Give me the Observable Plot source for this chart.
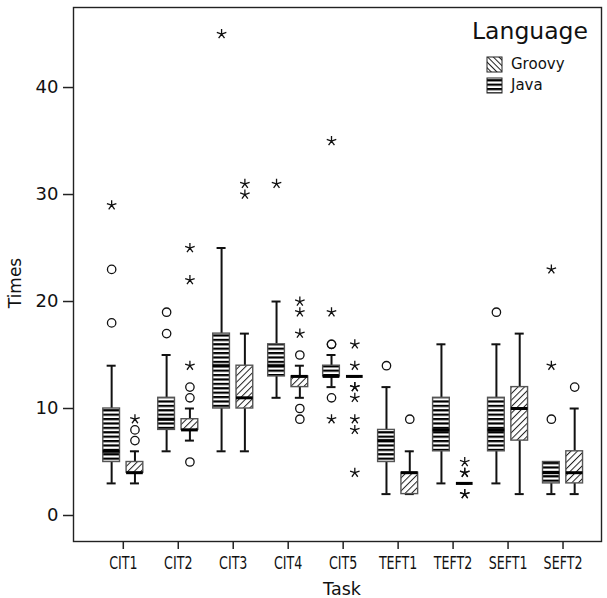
<!DOCTYPE html>
<html><head><meta charset="utf-8">
<script src="https://cdn.jsdelivr.net/npm/d3@7"></script>
<script src="https://cdn.jsdelivr.net/npm/@observablehq/plot@0.6"></script>
<style>body{margin:0;background:#fff}</style>
</head><body><div id="chart"></div>
<script>
const tasks = ["CIT1","CIT2","CIT3","CIT4","CIT5","TEFT1","TEFT2","SEFT1","SEFT2"];
const yTicks = [0,10,20,30,40];

// Java box statistics
const javaLow    = [3, 6, 6, 11, 12, 2, 3, 3, 2];
const javaQ1     = [5, 8, 10, 13, 13, 5, 6, 6, 3];
const javaMedian = [6, 9, 14, 14, 13, 7, 8, 8, 4];
const javaQ3     = [10, 11, 17, 16, 14, 8, 11, 11, 5];
const javaHigh   = [14, 15, 25, 20, 15, 12, 16, 16, 5];

// Groovy box statistics
const groovyLow    = [3, 7, 6, 11, 13, 2, 3, 2, 2];
const groovyQ1     = [4, 8, 10, 12, 13, 2, 3, 7, 3];
const groovyMedian = [4, 8, 11, 13, 13, 4, 3, 10, 4];
const groovyQ3     = [5, 9, 14, 13, 13, 4, 3, 12, 6];
const groovyHigh   = [6, 10, 17, 14, 13, 6, 3, 17, 10];

// Outliers (circles) and extremes (stars)
const javaCircles = [["CIT1",18],["CIT1",23],["CIT2",17],["CIT2",19],["CIT5",16],["CIT5",16],["CIT5",11],["TEFT1",14],["SEFT1",19],["SEFT2",9]];
const groovyCircles = [["CIT1",7],["CIT1",8],["CIT2",5],["CIT2",11],["CIT2",12],["CIT4",9],["CIT4",10],["CIT4",15],["TEFT1",9],["SEFT2",12]];
const javaStars = [["CIT1",29],["CIT3",45],["CIT4",31],["CIT5",35],["CIT5",19],["CIT5",9],["SEFT2",14],["SEFT2",23]];
const groovyStars = [["CIT1",9],["CIT2",14],["CIT2",22],["CIT2",25],["CIT3",30],["CIT3",31],["CIT4",17],["CIT4",19],["CIT4",20],["CIT5",16],["CIT5",14],["CIT5",12],["CIT5",12],["CIT5",11],["CIT5",9],["CIT5",8],["CIT5",4],["TEFT2",5],["TEFT2",4],["TEFT2",4],["TEFT2",2],["TEFT2",2]];

const legendTitle = "Language";
const legendItems = ["Groovy", "Java"];
const xLabel = "Task", yLabel = "Times";

const OFF = {Java: -0.212, Groovy: 0.212};
const HALF = 0.152, CAP = 0.082;

function boxRows(lang, lo, q1, med, q3, hi) {
  return tasks.map((t, i) => ({task: t, lang, xc: i + OFF[lang], lo: lo[i], q1: q1[i], med: med[i], q3: q3[i], hi: hi[i]}));
}
function pointRows(lang, arr) {
  return arr.map(([t, v]) => ({task: t, lang, xc: tasks.indexOf(t) + OFF[lang], v}));
}
const javaBoxes = boxRows("Java", javaLow, javaQ1, javaMedian, javaQ3, javaHigh);
const groovyBoxes = boxRows("Groovy", groovyLow, groovyQ1, groovyMedian, groovyQ3, groovyHigh);
const allBoxes = javaBoxes.concat(groovyBoxes);
const circles = pointRows("Java", javaCircles).concat(pointRows("Groovy", groovyCircles));
const stars = pointRows("Java", javaStars).concat(pointRows("Groovy", groovyStars));

const star5 = {
  draw(ctx, size) {
    const r = Math.sqrt(size / Math.PI);
    for (let k = 0; k < 5; k++) {
      const a = -Math.PI / 2 + k * 2 * Math.PI / 5;
      ctx.moveTo(0, 0);
      ctx.lineTo(r * Math.cos(a), r * Math.sin(a));
    }
  }
};

const chart = Plot.plot({
  width: 607,
  height: 598,
  marginLeft: 73,
  marginRight: 6,
  marginTop: 7,
  marginBottom: 57,
  style: {fontFamily: "DejaVu Sans", fontSize: "18px", color: "#111", background: "#fff"},
  x: {type: "linear", domain: [-0.906, 8.70], axis: null},
  y: {domain: [-2.43, 47.48], axis: null},
  marks: [
    Plot.frame({stroke: "#222", strokeWidth: 1.4}),
    Plot.axisY({ticks: yTicks, tickSize: 10, tickPadding: 5, fontSize: 18, label: null, stroke: "#222", strokeWidth: 1.5}),
    Plot.axisX({ticks: d3.range(tasks.length), tickFormat: i => tasks[i], tickSize: 8, tickPadding: 6, fontSize: 18.5, fontFamily: "DejaVu Sans Condensed", label: null, stroke: "#222", strokeWidth: 1.5}),
    // whiskers
    Plot.ruleX(allBoxes, {x: "xc", y1: "lo", y2: "q1", stroke: "#111", strokeWidth: 2}),
    Plot.ruleX(allBoxes, {x: "xc", y1: "q3", y2: "hi", stroke: "#111", strokeWidth: 2}),
    Plot.ruleY(allBoxes, {y: "lo", x1: d => d.xc - CAP, x2: d => d.xc + CAP, stroke: "#111", strokeWidth: 2}),
    Plot.ruleY(allBoxes, {y: "hi", x1: d => d.xc - CAP, x2: d => d.xc + CAP, stroke: "#111", strokeWidth: 2}),
    // boxes
    Plot.rect(javaBoxes, {x1: d => d.xc - HALF, x2: d => d.xc + HALF, y1: "q1", y2: "q3", fill: "url(#javaPat)", stroke: "#555", strokeWidth: 1.4}),
    Plot.rect(groovyBoxes, {x1: d => d.xc - HALF, x2: d => d.xc + HALF, y1: "q1", y2: "q3", fill: "url(#groovyPat)", stroke: "#555", strokeWidth: 1.4}),
    // medians
    Plot.ruleY(allBoxes, {y: "med", x1: d => d.xc - HALF, x2: d => d.xc + HALF, stroke: "#000", strokeWidth: 3}),
    // outliers
    Plot.dot(circles, {x: "xc", y: "v", r: 4.2, stroke: "#111", strokeWidth: 1.3, fill: "none"}),
    Plot.dot(stars, {x: "xc", y: "v", r: 5, symbol: star5, stroke: "#111", strokeWidth: 1.3, fill: "none"})
  ]
});

const svg = d3.select(chart);
const defs = svg.insert("defs", ":first-child");
const jp = defs.append("pattern").attr("id", "javaPat").attr("patternUnits", "userSpaceOnUse").attr("width", 8).attr("height", 4.4);
jp.append("rect").attr("width", 8).attr("height", 4.4).attr("fill", "#fff");
jp.append("rect").attr("y", 0).attr("width", 8).attr("height", 2.2).attr("fill", "#000");
function diag(id, angle, gap) {
  const p = defs.append("pattern").attr("id", id).attr("patternUnits", "userSpaceOnUse").attr("width", gap).attr("height", gap).attr("patternTransform", `rotate(${angle})`);
  p.append("rect").attr("width", gap).attr("height", gap).attr("fill", "#fff");
  p.append("line").attr("x1", 0.5).attr("y1", 0).attr("x2", 0.5).attr("y2", gap).attr("stroke", "#222").attr("stroke-width", 1);
}
diag("groovyPat", 45, 4.6);
diag("groovyLegPat", -45, 4);

// condense x tick labels
svg.selectAll('g[aria-label="x-axis tick label"] text').each(function() {
  const t = this.getAttribute("transform") || "";
  this.setAttribute("transform", t + " scale(0.76,1)");
});

// axis titles
svg.append("text").attr("x", 342).attr("y", 595).attr("text-anchor", "middle")
  .attr("font-family", "DejaVu Sans").attr("font-size", 17.5).attr("fill", "#111").text(xLabel);
svg.append("text").attr("transform", "translate(21,283) rotate(-90)").attr("text-anchor", "middle")
  .attr("font-family", "DejaVu Sans").attr("font-size", 17).attr("fill", "#111").text(yLabel);

// legend
const leg = svg.append("g").attr("font-family", "DejaVu Sans").attr("fill", "#111").attr("text-anchor", "start");
leg.append("text").attr("x", 472).attr("y", 39).attr("font-size", 23.5).text(legendTitle);
const fills = {Groovy: "url(#groovyLegPat)", Java: "url(#javaPat)"};
legendItems.forEach((name, k) => {
  const y = 57 + 21 * k;
  leg.append("rect").attr("x", 487).attr("y", y).attr("width", 15).attr("height", 15).attr("fill", fills[name]).attr("stroke", "#222").attr("stroke-width", 1);
  leg.append("text").attr("x", 511).attr("y", y + 12).attr("font-size", 15).text(name);
});

document.getElementById("chart").appendChild(chart);
</script>
</body></html>
